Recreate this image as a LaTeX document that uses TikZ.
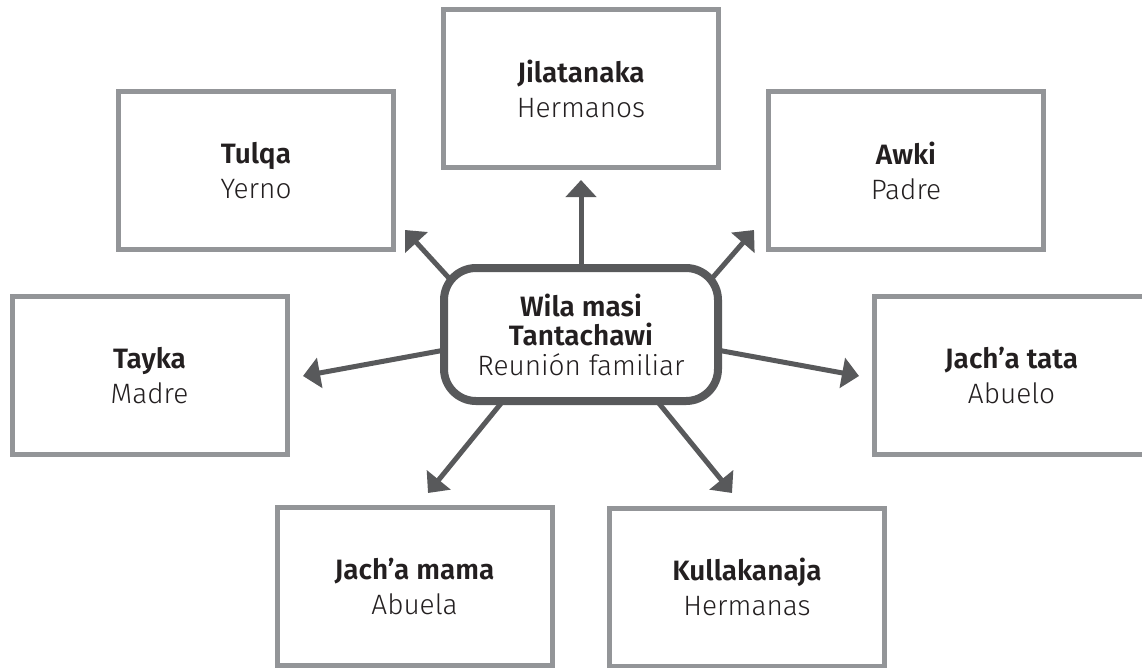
\documentclass[tikz,border=0pt]{standalone}
\usepackage{fontspec}
\IfFontExistsTF{Fira Sans Light}{%
  \IfFontExistsTF{Fira Sans SemiBold}{%
    \setmainfont{Fira Sans Light}[BoldFont={Fira Sans SemiBold}]}{%
    \setmainfont{Fira Sans Light}[BoldFont={Fira Sans Bold}]}}{%
  \setmainfont{PT Sans}}
\usetikzlibrary{arrows.meta}
\pgfdeclarelayer{background}
\pgfsetlayers{background,main}
\definecolor{boxgray}{HTML}{939598}
\definecolor{linkgray}{HTML}{58595B}
\definecolor{textdark}{HTML}{231F20}

\begin{document}
\begin{tikzpicture}[x=1pt, y=-1pt,
    box/.style = {draw=boxgray, line width=5pt, fill=white, minimum width=275pt, minimum height=158pt, align=center, text=textdark, font=\fontsize{28}{35}\selectfont},
    hub/.style = {draw=linkgray, line width=8pt, rounded corners=32pt, fill=white, minimum width=274pt, minimum height=133pt, align=center, text=textdark, font=\fontsize{28}{29.5}\selectfont},
    link/.style = {draw=linkgray, line width=5pt, -{Triangle[length=17pt, width=30pt]}}]
    \useasboundingbox (0,0) rectangle (1142,667);

    \node[hub] (hub) at (581,334.5) {\textbf{Wila masi}\\\textbf{Tantachawi}\\Reunión familiar};

    \node[box] (jilatanaka) at (581,88.5) {\textbf{Jilatanaka}\\Hermanos};
    \node[box] (tulqa) at (256,170.5) {\textbf{Tulqa}\\Yerno};
    \node[box] (awki) at (906,170.5) {\textbf{Awki}\\Padre};
    \node[box] (tayka) at (149.5,375.5) {\textbf{Tayka}\\Madre};
    \node[box] (jachatata) at (1011.5,375.5) {\textbf{Jach’a tata}\\Abuelo};
    \node[box] (jachamama) at (414.5,586.5) {\textbf{Jach’a mama}\\Abuela};
    \node[box] (kullakanaja) at (747,587) {\textbf{Kullakanaja}\\Hermanas};

    % arrow tips, a little off each box
    \coordinate (jilatanaka-tip) at (581,180);
    \coordinate (tulqa-tip) at (405,230);
    \coordinate (awki-tip) at (754,230);
    \coordinate (tayka-tip) at (303,376);
    \coordinate (jachatata-tip) at (859,376);
    \coordinate (jachamama-tip) at (428,493);
    \coordinate (kullakanaja-tip) at (732,493);

    \begin{pgfonlayer}{background}
        \draw[link] (hub.center) -- (jilatanaka-tip);
        \draw[link] ([shift={(-117,-40)}]hub.center) -- (tulqa-tip);
        \draw[link] ([shift={(117,-40)}]hub.center) -- (awki-tip);
        \draw[link] ([shift={(-117,12)}]hub.center) -- (tayka-tip);
        \draw[link] ([shift={(117,12)}]hub.center) -- (jachatata-tip);
        \draw[link] ([shift={(-65,50.5)}]hub.center) -- (jachamama-tip);
        \draw[link] ([shift={(63,50.5)}]hub.center) -- (kullakanaja-tip);
    \end{pgfonlayer}
\end{tikzpicture}
\end{document}
